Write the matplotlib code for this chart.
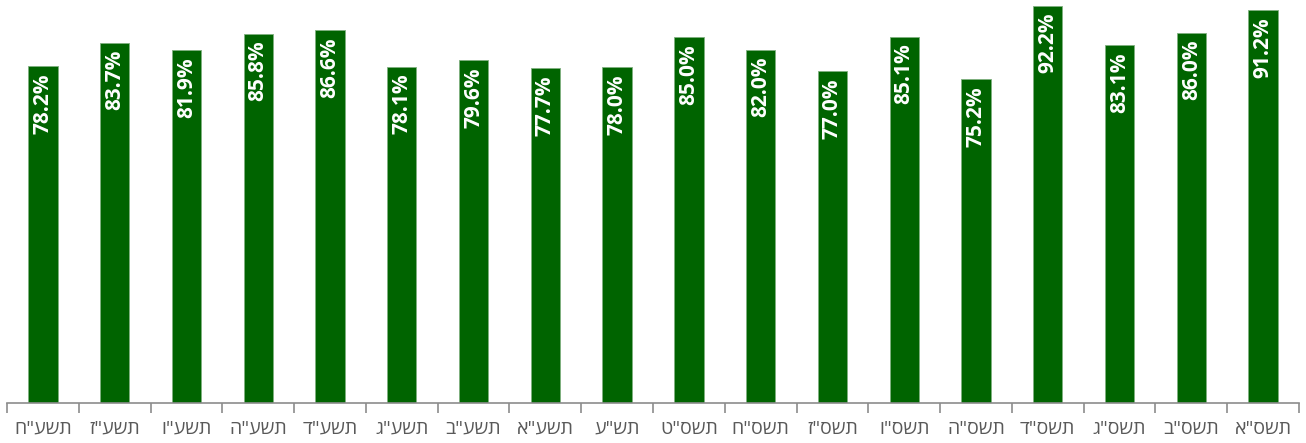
import matplotlib.pyplot as plt
import numpy as np

# school years, left to right as drawn in the reference
years = ['תשע"ח', 'תשע"ז', 'תשע"ו', 'תשע"ה', 'תשע"ד', 'תשע"ג', 'תשע"ב', 'תשע"א', 'תש"ע',
         'תשס"ט', 'תשס"ח', 'תשס"ז', 'תשס"ו', 'תשס"ה', 'תשס"ד', 'תשס"ג', 'תשס"ב', 'תשס"א']
values = [78.2, 83.7, 81.9, 85.8, 86.6, 78.1, 79.6, 77.7, 78.0,
          85.0, 82.0, 77.0, 85.1, 75.2, 92.2, 83.1, 86.0, 91.2]

bar_color = '#006400'
axis_gray = '#8c8c8c'
label_gray = '#595959'

fig = plt.figure(figsize=(13.06, 4.43), dpi=100)
ax = fig.add_axes([7 / 1306, 40 / 443, 1292 / 1306, 403 / 443])

x = np.arange(len(values))
ax.bar(x, values, width=0.41, color=bar_color, edgecolor='#7fb07f', linewidth=0.6)

for xi, v in zip(x, values):
    ax.annotate(f'{v:.1f}%', (xi, v), xytext=(0, -5), textcoords='offset points',
                rotation=90, ha='center', va='top', color='white',
                fontsize=15, fontweight='bold', family='Open Sans')

ax.set_xlim(-0.5, len(values) - 0.5)
ax.set_ylim(0, 93.6)

# Hebrew is drawn left-to-right by matplotlib, so reverse each string
ax.set_xticks(x)
ax.set_xticklabels([s[::-1] for s in years], fontsize=14, color=label_gray,
                   family=['Open Sans', 'DejaVu Sans'])
ax.tick_params(axis='x', which='major', length=0, pad=12)
ax.set_xticks(np.arange(len(values) + 1) - 0.5, minor=True)
ax.tick_params(axis='x', which='minor', length=7, width=1.2, color=axis_gray)

ax.set_yticks([])
for side in ['top', 'right', 'left']:
    ax.spines[side].set_visible(False)
ax.spines['bottom'].set_color(axis_gray)
ax.spines['bottom'].set_linewidth(1.2)

plt.savefig('out.png', dpi=100)
plt.close()
